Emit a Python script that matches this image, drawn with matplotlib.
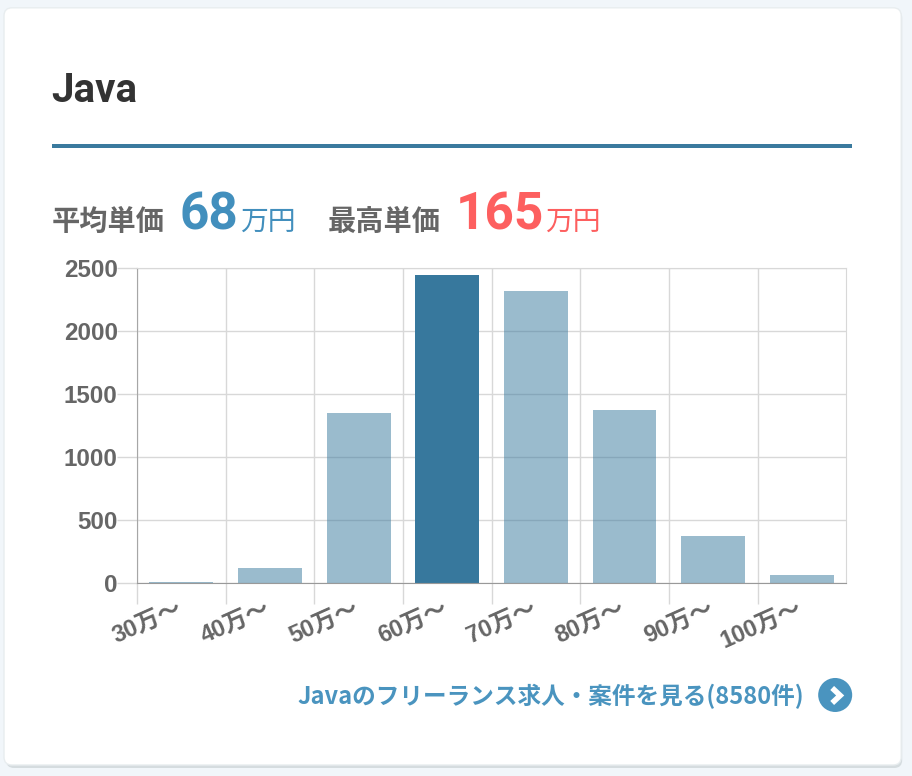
import matplotlib
matplotlib.use('Agg')
import matplotlib.pyplot as plt
from matplotlib.patches import FancyBboxPatch, Circle, Rectangle
from matplotlib.transforms import ScaledTranslation
import numpy as np

plt.rcParams['font.family'] = ['Noto Sans CJK JP', 'DejaVu Sans']

title = 'Java'
categories = ['30万〜', '40万〜', '50万〜', '60万〜', '70万〜', '80万〜', '90万〜', '100万〜']
counts = [6, 120, 1350, 2445, 2315, 1370, 370, 65]
highlight = 3
yticks = [0, 500, 1000, 1500, 2000, 2500]
link_text = 'Javaのフリーランス求人・案件を見る(8580件)'

W, H = 912, 776
# the extra .2 px stops 9.12*100 being truncated to 911
fig = plt.figure(figsize=((W + 0.2) / 100, (H + 0.2) / 100), dpi=100, facecolor='#f1f6fa')

# pixel coords for all the card stuff
bg = fig.add_axes([0, 0, 1, 1])
bg.set_xlim(0, W)
bg.set_ylim(H, 0)
bg.axis('off')
bg.add_patch(FancyBboxPatch((6, 10), 896, 758, boxstyle='round,pad=0,rounding_size=8', fc='#d5dcdf', ec='none'))
bg.add_patch(FancyBboxPatch((4, 8), 897, 757, boxstyle='round,pad=0,rounding_size=8', fc='white', ec='#e8edef', lw=1))

bg.text(51.5, 91, title, fontsize=29, fontweight='bold', color='#333333', family='Roboto', va='center', ha='left')
bg.add_patch(Rectangle((52, 144), 800, 4, fc='#3a7a9e', ec='none'))

bg.text(52, 222, '平均単価', fontsize=20.3, fontweight='bold', color='#666666', va='center')
bg.text(179.5, 215, '68', fontsize=37, fontweight='bold', color='#428fbd', family='Roboto', va='center')
bg.text(240, 222, '万円', fontsize=20, color='#428fbd', va='center')
bg.text(328, 222, '最高単価', fontsize=20.3, fontweight='bold', color='#666666', va='center')
bg.text(456, 215, '165', fontsize=37, fontweight='bold', color='#fd5f5f', family='Roboto', va='center')
bg.text(545, 222, '万円', fontsize=20, color='#fd5f5f', va='center')

bg.text(804, 696, link_text, fontsize=17, fontweight='bold', color='#4a94bf', va='center', ha='right')
bg.add_patch(Circle((835, 695), 17, fc='#4a94bf', ec='none'))
bg.plot([832, 840, 832], [688, 695.5, 703], color='white', lw=4, solid_capstyle='butt', solid_joinstyle='miter')

# chart
left, right, top, bottom = 137, 846, 268, 583
ax = fig.add_axes([left / W, 1 - bottom / H, (right - left) / W, (bottom - top) / H])
ax.patch.set_alpha(0)
x = np.arange(len(categories))
for i in x:
    if i == highlight:
        ax.bar(i, counts[i], width=0.72, color='#37789d', zorder=3)
    else:
        ax.bar(i, counts[i], width=0.72, color='#37789d', alpha=0.5, zorder=3)
ax.set_xlim(-0.5, len(categories) - 0.5)
ax.set_ylim(0, 2500)
ax.set_yticks(yticks)
ax.set_yticklabels([str(v) for v in yticks])
ax.set_xticks(x - 0.5)
ax.set_xticklabels(categories, rotation=24, ha='right', va='center', rotation_mode='anchor')
ax.grid(True, color='#d8d8d8', lw=1, zorder=1)
# tick lengths are points, 20px = 14.4pt
ax.tick_params(axis='y', length=14.4, width=1, color='#d8d8d8', labelcolor='#666666', labelsize=17.4, pad=-0.5)
ax.tick_params(axis='x', length=15, width=1, color='#d8d8d8', labelcolor='#666666', labelsize=17, pad=3)
tick_font = ['Liberation Sans', 'Noto Sans CJK JP']
for lab in ax.get_yticklabels():
    lab.set_fontweight('bold')
    lab.set_family(tick_font)
# labels sit right of their tick, like the original
shift = ScaledTranslation(44 / 100, 0, fig.dpi_scale_trans)
for lab in ax.get_xticklabels():
    lab.set_fontweight('bold')
    lab.set_family(tick_font)
    lab.set_transform(lab.get_transform() + shift)
ax.xaxis.get_major_ticks()[0].tick1line.set_color('#a6a6a6')
ax.yaxis.get_major_ticks()[0].tick1line.set_color('#a6a6a6')
for s in ['top', 'right']:
    ax.spines[s].set_color('#d8d8d8')
ax.spines['left'].set_color('#a6a6a6')
ax.spines['bottom'].set_color('#999999')
ax.spines['bottom'].set_zorder(5)

fig.savefig('out.png', dpi=100, facecolor=fig.get_facecolor())
